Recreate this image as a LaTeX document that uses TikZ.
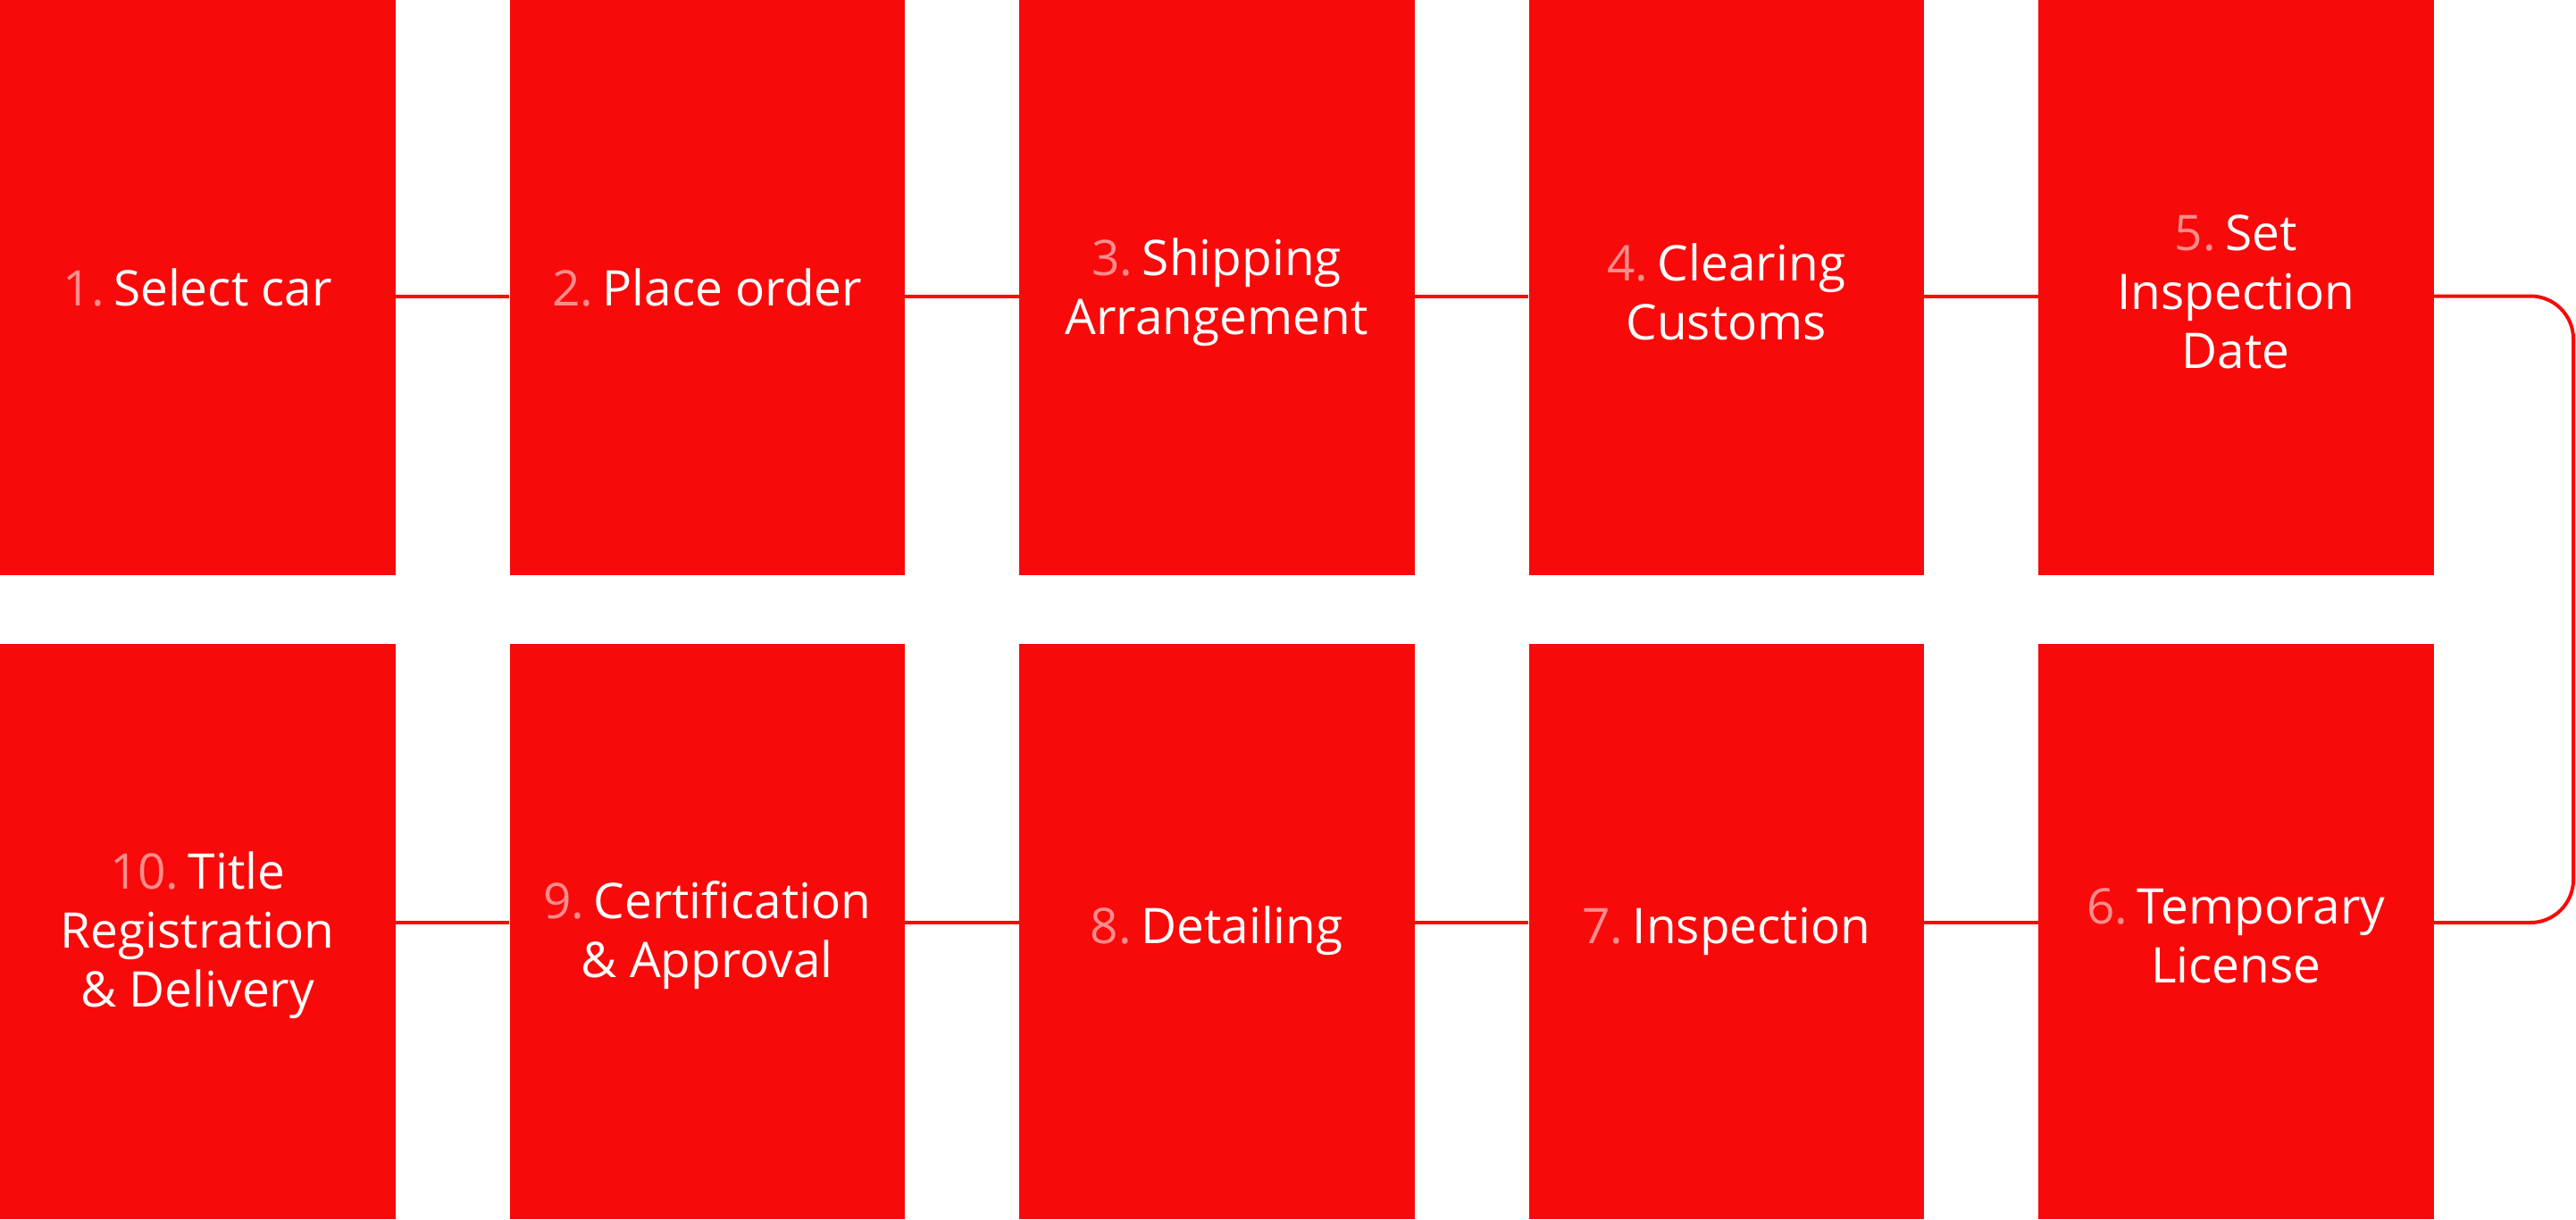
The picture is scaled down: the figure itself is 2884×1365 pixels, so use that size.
\documentclass[tikz,border=0pt]{standalone}
\usepackage{fontspec}
\setmainfont{Open Sans}
\definecolor{boxred}{RGB}{248,10,10}
\definecolor{numpink}{RGB}{252,140,140}
\begin{document}
\begin{tikzpicture}[x=0.5pt,y=-0.5pt,
  stepbox/.style={draw=none,fill=boxred,minimum width=221.25pt,minimum height=322pt,inner sep=0pt,
    text=white,align=center,font=\fontsize{27.5pt}{33pt}\selectfont},
  mltext/.style={label={[font=\fontsize{27.5pt}{33pt}\selectfont,text=white,align=center,yshift=-2.5pt]center:#1}},
  link/.style={draw=boxred,line width=2pt}]
\useasboundingbox (0,0) rectangle (2884,1365);
\newcommand\num[1]{\textcolor{numpink}{#1}\hspace{5.2pt}}
\node[stepbox] (b1) at (221.25,322) {\num{1.}Select car};
\node[stepbox] (b2) at (791.75,322) {\num{2.}Place order};
\node[stepbox] (b3) at (1362.25,322) {};
\node[stepbox] (b4) at (1932.75,322) {};
\node[stepbox] (b5) at (2503.25,322) {};
\node[stepbox] (b10) at (221.25,1042.5) {};
\node[stepbox] (b9) at (791.75,1042.5) {};
\node[stepbox] (b8) at (1362.25,1042.5) {\num{8.}Detailing};
\node[stepbox] (b7) at (1932.75,1042.5) {\num{7.}Inspection};
\node[stepbox] (b6) at (2503.25,1042.5) {};
\node[stepbox,fill=none,yshift=-2.5pt] (t3) at (b3.center) {\num{3.}Shipping\\Arrangement};
\node[stepbox,fill=none,yshift=-2.5pt] (t4) at (b4.center) {\num{4.}Clearing\\Customs};
\node[stepbox,fill=none,yshift=-2.5pt] (t5) at (b5.center) {\num{5.}Set\\Inspection\\Date};
\node[stepbox,fill=none,yshift=-2.5pt] (t10) at (b10.center) {\num{10.}Title\\Registration\\\& Delivery};
\node[stepbox,fill=none,yshift=-2.5pt] (t9) at (b9.center) {\num{9.}Certification\\\& Approval};
\node[stepbox,fill=none,yshift=-2.5pt] (t6) at (b6.center) {\num{6.}Temporary\\License};
\coordinate (rc) at (2881,700);
\draw[link] ([yshift=-4.75pt]b1.east) -- ([yshift=-4.75pt]b2.west);
\draw[link] ([yshift=-4.75pt]b2.east) -- ([yshift=-4.75pt]b3.west);
\draw[link] ([yshift=-4.75pt]b3.east) -- ([yshift=-4.75pt]b4.west);
\draw[link] ([yshift=-4.75pt]b4.east) -- ([yshift=-4.75pt]b5.west);
\draw[link,rounded corners=24pt] ([yshift=-4.75pt]b5.east) -| (rc) |- ([yshift=4.75pt]b6.east);
\draw[link] ([yshift=4.75pt]b7.east) -- ([yshift=4.75pt]b6.west);
\draw[link] ([yshift=4.75pt]b8.east) -- ([yshift=4.75pt]b7.west);
\draw[link] ([yshift=4.75pt]b9.east) -- ([yshift=4.75pt]b8.west);
\draw[link] ([yshift=4.75pt]b10.east) -- ([yshift=4.75pt]b9.west);
\end{tikzpicture}
\end{document}
